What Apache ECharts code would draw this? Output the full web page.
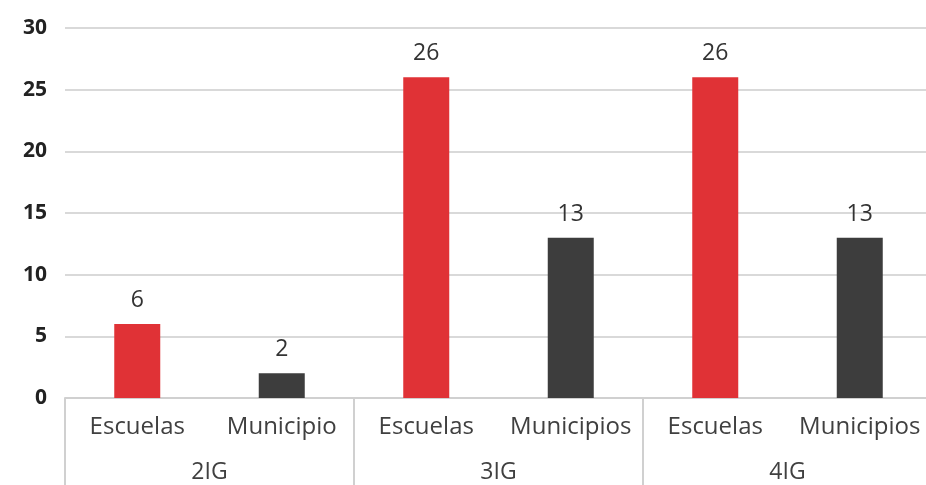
<!DOCTYPE html>
<html><head><meta charset="utf-8">
<script src="https://cdn.jsdelivr.net/npm/echarts@6/dist/echarts.min.js"></script>
<style>html,body{margin:0;padding:0;background:#fff;overflow:hidden}#c{width:932px;height:485px}</style>
</head><body><div id="c"></div>
<script>
const categories = ['Escuelas','Municipio','Escuelas','Municipios','Escuelas','Municipios'];
const groups = ['2IG','3IG','4IG'];
const values = [6, 2, 26, 13, 26, 13];
const yTicks = [0, 5, 10, 15, 20, 25, 30];

const RED = '#e03236', GRAY = '#3d3d3d';
const FONT = 'Open Sans';
const chart = echarts.init(document.getElementById('c'));
chart.setOption({
  animation: false,
  grid: {left: 65, right: 0, top: 28, bottom: 87, containLabel: false},
  xAxis: [{
    type: 'category', data: categories, position: 'bottom',
    axisLine: {show: true, lineStyle: {color: '#d0d0d0', width: 2}},
    axisTick: {show: false},
    axisLabel: {fontFamily: FONT, fontSize: 24, color: '#404040', margin: 17, interval: 0}
  }, {
    type: 'category', data: groups, position: 'bottom',
    axisLine: {show: false},
    axisTick: {show: true, length: 90, lineStyle: {color: '#d0d0d0', width: 2}},
    axisLabel: {fontFamily: FONT, fontSize: 23, color: '#404040', margin: 63, interval: 0}
  }],
  yAxis: {
    type: 'value', min: yTicks[0], max: yTicks[yTicks.length-1], interval: 5,
    axisLine: {show: false}, axisTick: {show: false},
    splitLine: {lineStyle: {color: '#d9d9d9', width: 2}},
    axisLabel: {fontFamily: FONT, fontWeight: 'bold', fontSize: 21, color: '#222', margin: 18}
  },
  series: [{
    type: 'bar', xAxisIndex: 0, data: values, barWidth: 46,
    itemStyle: {color: p => p.dataIndex % 2 === 0 ? RED : GRAY},
    label: {show: true, position: 'top', distance: 12, fontFamily: FONT, fontSize: 23, color: '#333'}
  }]
});
</script></body></html>
